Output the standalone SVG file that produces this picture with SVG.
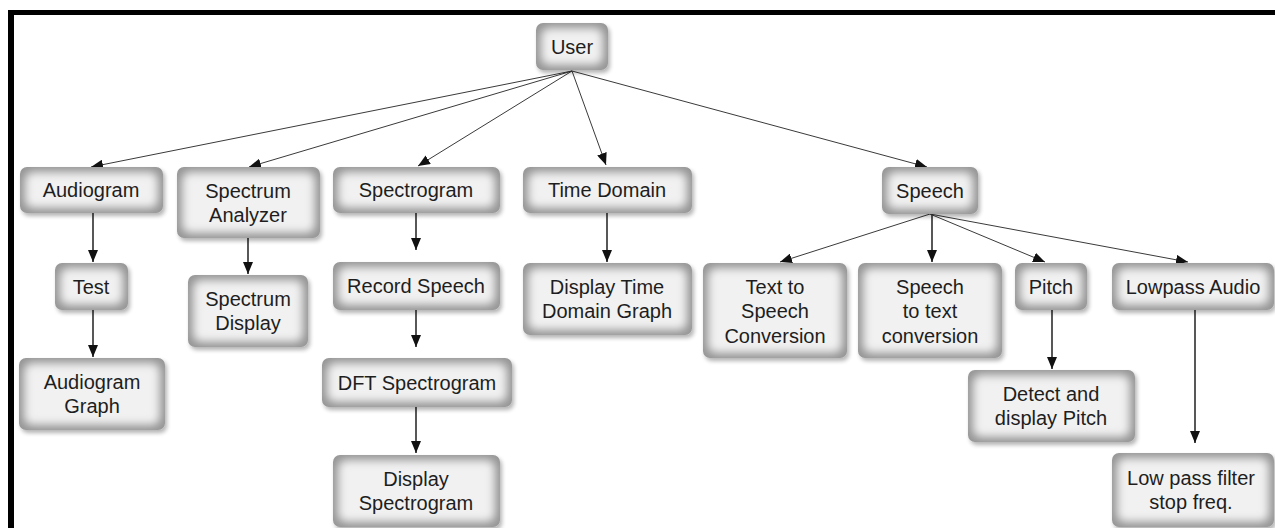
<svg xmlns="http://www.w3.org/2000/svg" width="1275" height="528" viewBox="0 0 1275 528">
  <style>
    .box { fill: #979797; filter: url(#bevel); }
    .lbl { font-family: "Liberation Sans", Arial, sans-serif; font-size: 20px; fill: #1e1e1e; text-anchor: middle; }
    .link { fill: none; stroke: #3a3a3a; stroke-width: 1; marker-end: url(#ah); }
    .drop { fill: none; stroke: #111; stroke-width: 1.4; marker-end: url(#ah); }
  </style>
  <defs>
    <!-- grey rounded box: soft light centre fading into a darker rim, small drop shadow -->
    <filter id="bevel" x="-0.1" y="-0.15" width="1.25" height="1.45">
      <feMorphology in="SourceAlpha" operator="erode" radius="6" result="er"/>
      <feGaussianBlur in="er" stdDeviation="4.5" result="erb"/>
      <feFlood flood-color="#f1f1f1" result="light"/>
      <feComposite in="light" in2="erb" operator="in" result="core0"/>
      <feComposite in="core0" in2="SourceAlpha" operator="in" result="core"/>
      <feGaussianBlur in="SourceAlpha" stdDeviation="2" result="sb"/>
      <feOffset in="sb" dx="2" dy="3" result="so"/>
      <feComponentTransfer in="so" result="shadow">
        <feFuncA type="linear" slope="0.3"/>
      </feComponentTransfer>
      <feMerge>
        <feMergeNode in="shadow"/>
        <feMergeNode in="SourceGraphic"/>
        <feMergeNode in="core"/>
      </feMerge>
    </filter>
    <marker id="ah" viewBox="0 0 12 10" refX="12" refY="5" markerWidth="12" markerHeight="10" markerUnits="userSpaceOnUse" orient="auto">
      <path d="M0,0 L12,5 L0,10 z" fill="#111"/>
    </marker>
  </defs>

  <rect width="1275" height="528" fill="#fff"/>
  <!-- frame -->
  <rect x="8" y="10" width="1267" height="5" fill="#000"/>
  <rect x="8" y="10" width="6" height="518" fill="#000"/>

  <g id="connectors">
    <line class="link" x1="572" y1="71" x2="91" y2="167"/>
    <line class="link" x1="572" y1="71" x2="249" y2="167"/>
    <line class="link" x1="572" y1="71" x2="418" y2="166"/>
    <line class="link" x1="572" y1="71" x2="606" y2="165"/>
    <line class="link" x1="572" y1="71" x2="927" y2="167"/>
    <line class="link" x1="930" y1="214" x2="780" y2="262"/>
    <line class="drop" x1="932" y1="214" x2="932" y2="262"/>
    <line class="link" x1="930" y1="214" x2="1045" y2="262"/>
    <line class="link" x1="930" y1="214" x2="1188" y2="262"/>
    <line class="drop" x1="93" y1="213" x2="93" y2="262"/>
    <line class="drop" x1="93" y1="310" x2="93" y2="357"/>
    <line class="drop" x1="248" y1="238" x2="248" y2="274"/>
    <line class="drop" x1="416" y1="213" x2="416" y2="250"/>
    <line class="drop" x1="416" y1="310" x2="416" y2="347"/>
    <line class="drop" x1="416" y1="407" x2="416" y2="453"/>
    <line class="drop" x1="607" y1="213" x2="607" y2="262"/>
    <line class="drop" x1="1052" y1="310" x2="1052" y2="369"/>
    <line class="drop" x1="1195" y1="310" x2="1195" y2="443"/>
  </g>

  <g id="user">
    <rect class="box" x="536" y="23" width="72" height="47" rx="7"/>
    <text class="lbl" x="572" y="54">User</text>
  </g>
  <g id="audiogram">
    <rect class="box" x="20" y="167" width="143" height="46" rx="7"/>
    <text class="lbl" x="91" y="197">Audiogram</text>
  </g>
  <g id="spectrum-analyzer">
    <rect class="box" x="177" y="167" width="143" height="71" rx="7"/>
    <text class="lbl" x="248" y="198">Spectrum</text>
    <text class="lbl" x="248" y="222">Analyzer</text>
  </g>
  <g id="spectrogram">
    <rect class="box" x="333" y="167" width="167" height="46" rx="7"/>
    <text class="lbl" x="416" y="197">Spectrogram</text>
  </g>
  <g id="time-domain">
    <rect class="box" x="523" y="167" width="169" height="46" rx="7"/>
    <text class="lbl" x="607" y="197">Time Domain</text>
  </g>
  <g id="speech">
    <rect class="box" x="882" y="167" width="96" height="47" rx="7"/>
    <text class="lbl" x="930" y="198">Speech</text>
  </g>
  <g id="test">
    <rect class="box" x="55" y="263" width="73" height="47" rx="7"/>
    <text class="lbl" x="91" y="294">Test</text>
  </g>
  <g id="spectrum-display">
    <rect class="box" x="188" y="275" width="120" height="72" rx="7"/>
    <text class="lbl" x="248" y="306">Spectrum</text>
    <text class="lbl" x="248" y="330">Display</text>
  </g>
  <g id="record-speech">
    <rect class="box" x="333" y="262" width="167" height="48" rx="7"/>
    <text class="lbl" x="416" y="293">Record Speech</text>
  </g>
  <g id="display-time-domain">
    <rect class="box" x="523" y="263" width="169" height="72" rx="7"/>
    <text class="lbl" x="607" y="294">Display Time</text>
    <text class="lbl" x="607" y="318">Domain Graph</text>
  </g>
  <g id="text-to-speech">
    <rect class="box" x="703" y="263" width="144" height="95" rx="7"/>
    <text class="lbl" x="775" y="294">Text to</text>
    <text class="lbl" x="775" y="318">Speech</text>
    <text class="lbl" x="775" y="343">Conversion</text>
  </g>
  <g id="speech-to-text">
    <rect class="box" x="858" y="263" width="144" height="95" rx="7"/>
    <text class="lbl" x="930" y="294">Speech</text>
    <text class="lbl" x="930" y="318">to text</text>
    <text class="lbl" x="930" y="343">conversion</text>
  </g>
  <g id="pitch">
    <rect class="box" x="1015" y="263" width="72" height="47" rx="7"/>
    <text class="lbl" x="1051" y="294">Pitch</text>
  </g>
  <g id="lowpass-audio">
    <rect class="box" x="1112" y="263" width="162" height="47" rx="7"/>
    <text class="lbl" x="1193" y="294">Lowpass Audio</text>
  </g>
  <g id="audiogram-graph">
    <rect class="box" x="19" y="358" width="146" height="72" rx="7"/>
    <text class="lbl" x="92" y="389">Audiogram</text>
    <text class="lbl" x="92" y="413">Graph</text>
  </g>
  <g id="dft-spectrogram">
    <rect class="box" x="322" y="358" width="190" height="49" rx="7"/>
    <text class="lbl" x="417" y="390">DFT Spectrogram</text>
  </g>
  <g id="detect-pitch">
    <rect class="box" x="968" y="370" width="167" height="72" rx="7"/>
    <text class="lbl" x="1051" y="401">Detect and</text>
    <text class="lbl" x="1051" y="425">display Pitch</text>
  </g>
  <g id="display-spectrogram">
    <rect class="box" x="333" y="455" width="167" height="72" rx="7"/>
    <text class="lbl" x="416" y="486">Display</text>
    <text class="lbl" x="416" y="510">Spectrogram</text>
  </g>
  <g id="lowpass-stop">
    <rect class="box" x="1112" y="453" width="162" height="74" rx="7"/>
    <text class="lbl" x="1191" y="485">Low pass filter</text>
    <text class="lbl" x="1191" y="509">stop freq.</text>
  </g>
</svg>
